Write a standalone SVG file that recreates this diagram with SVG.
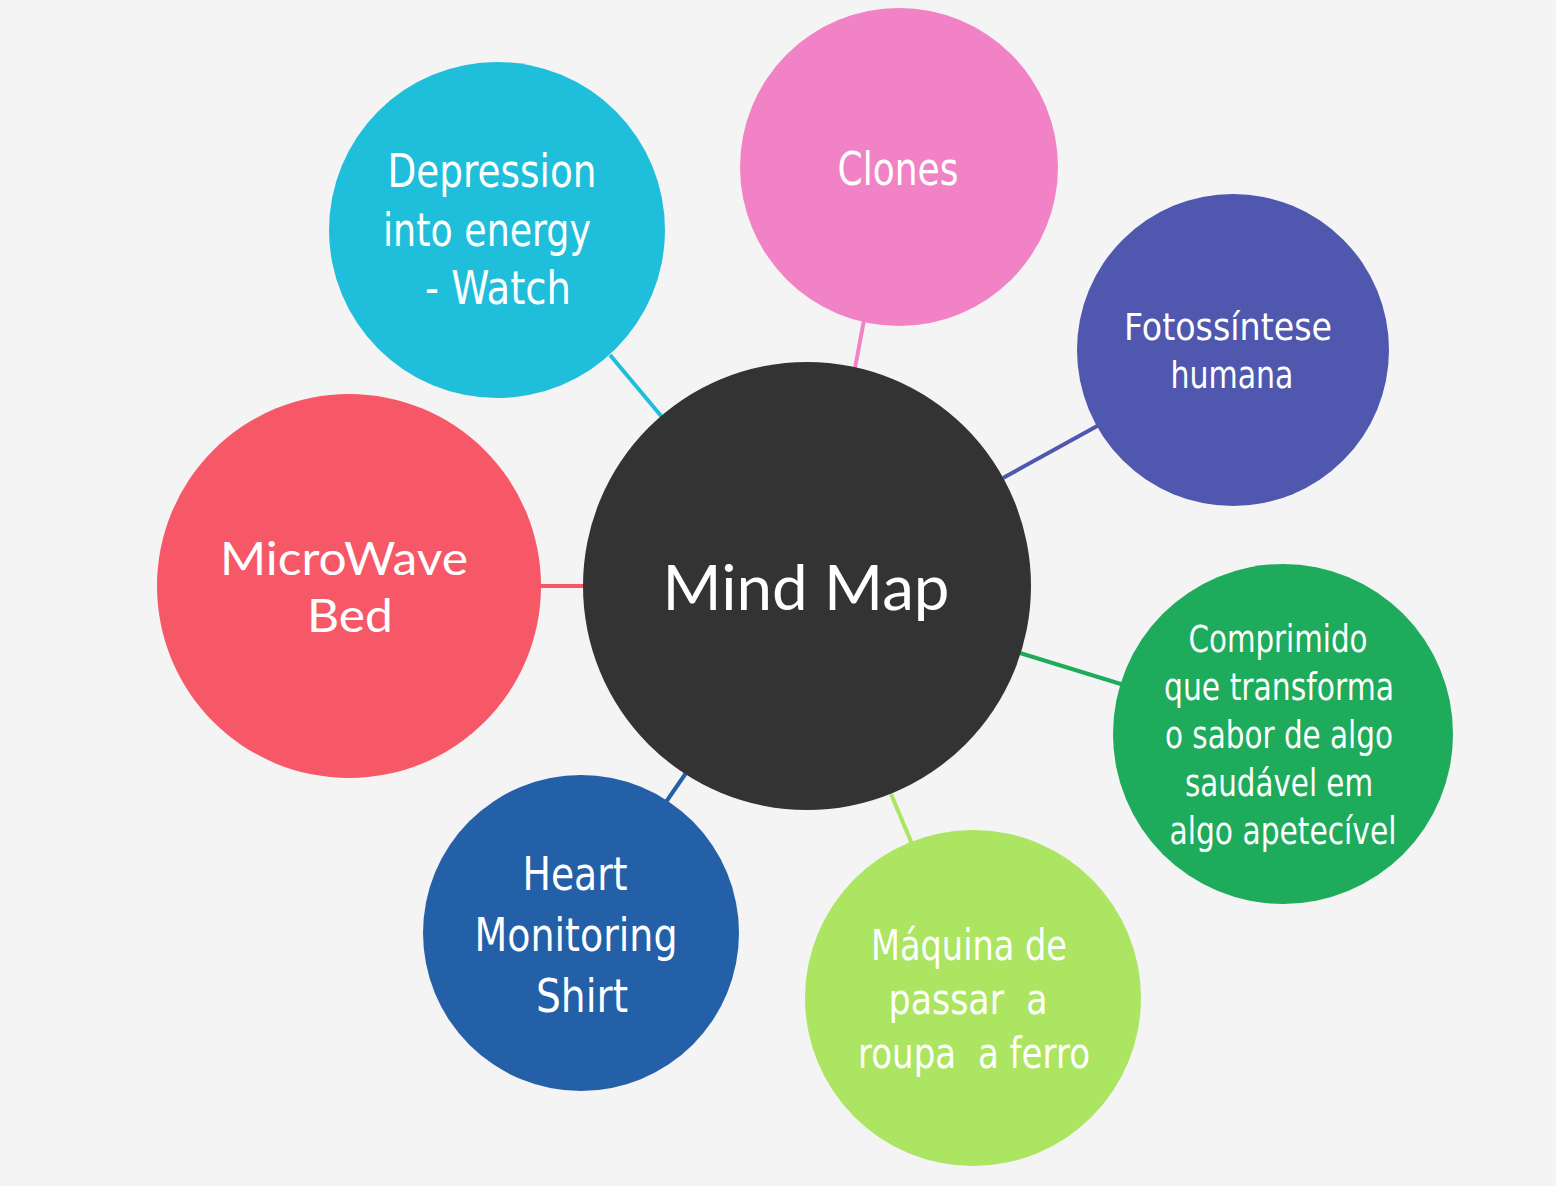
<svg xmlns="http://www.w3.org/2000/svg" width="1556" height="1186" viewBox="0 0 1556 1186">
  <style>
    .link { stroke-width: 4; fill: none; }
    .label { fill: #ffffff; text-anchor: middle; font-family: "Liberation Sans Narrow", "DejaVu Sans Condensed", "Roboto", sans-serif; }
    .round { fill: #ffffff; text-anchor: middle; font-family: "Lato", "Open Sans", sans-serif; }
  </style>
  <rect width="1556" height="1186" fill="#f4f4f4"/>

  <!-- connectors from the centre to each idea -->
  <g id="connectors">
    <line class="link" stroke="#1fbfdb" x1="610" y1="355" x2="662" y2="417"/>
    <line class="link" stroke="#f282c6" x1="864" y1="320" x2="855" y2="368"/>
    <line class="link" stroke="#4f58ae" x1="1003" y1="478" x2="1099" y2="425"/>
    <line class="link" stroke="#1eab5c" x1="1020" y1="653" x2="1124" y2="685"/>
    <line class="link" stroke="#abe561" x1="891" y1="794" x2="912" y2="844"/>
    <line class="link" stroke="#2460a7" x1="686" y1="773" x2="666" y2="802"/>
    <line class="link" stroke="#f65867" x1="538" y1="586" x2="585" y2="586"/>
  </g>

  <g id="depression">
    <circle cx="497" cy="230" r="168" fill="#1fbfdb"/>
    <g class="label" font-size="46">
      <text x="492" y="187" textLength="209" lengthAdjust="spacingAndGlyphs">Depression</text>
      <text x="487" y="246" textLength="208" lengthAdjust="spacingAndGlyphs">into energy</text>
      <text x="498" y="304" textLength="146" lengthAdjust="spacingAndGlyphs">- Watch</text>
    </g>
  </g>

  <g id="clones">
    <circle cx="899" cy="167" r="159" fill="#f282c6"/>
    <text class="label" font-size="46" x="898" y="185" textLength="121" lengthAdjust="spacingAndGlyphs">Clones</text>
  </g>

  <g id="fotossintese">
    <circle cx="1233" cy="350" r="156" fill="#4f58ae"/>
    <g class="label" font-size="38">
      <text x="1228" y="340" textLength="208" lengthAdjust="spacingAndGlyphs">Fotossíntese</text>
      <text x="1232" y="388" textLength="123" lengthAdjust="spacingAndGlyphs">humana</text>
    </g>
  </g>

  <g id="comprimido">
    <circle cx="1283" cy="734" r="170" fill="#1eab5c"/>
    <g class="label" font-size="37">
      <text x="1278" y="652" textLength="179" lengthAdjust="spacingAndGlyphs">Comprimido</text>
      <text x="1279" y="700" textLength="230" lengthAdjust="spacingAndGlyphs">que transforma</text>
      <text x="1279" y="748" textLength="228" lengthAdjust="spacingAndGlyphs">o sabor de algo</text>
      <text x="1279" y="796" textLength="188" lengthAdjust="spacingAndGlyphs">saudável em</text>
      <text x="1283" y="844" textLength="227" lengthAdjust="spacingAndGlyphs">algo apetecível</text>
    </g>
  </g>

  <g id="maquina">
    <circle cx="973" cy="998" r="168" fill="#abe561"/>
    <g class="label" font-size="42">
      <text x="969" y="960" textLength="196" lengthAdjust="spacingAndGlyphs">Máquina de</text>
      <text x="968" y="1014" textLength="159" lengthAdjust="spacingAndGlyphs">passar&#160; a</text>
      <text x="974" y="1068" textLength="232" lengthAdjust="spacingAndGlyphs">roupa&#160; a ferro</text>
    </g>
  </g>

  <g id="heart">
    <circle cx="581" cy="933" r="158" fill="#2460a7"/>
    <g class="label" font-size="46">
      <text x="575" y="890" textLength="105" lengthAdjust="spacingAndGlyphs">Heart</text>
      <text x="576" y="951" textLength="203" lengthAdjust="spacingAndGlyphs">Monitoring</text>
      <text x="582" y="1012" textLength="92" lengthAdjust="spacingAndGlyphs">Shirt</text>
    </g>
  </g>

  <g id="microwave">
    <circle cx="349" cy="586" r="192" fill="#f65867"/>
    <g class="round" font-size="46">
      <text x="344" y="575" textLength="248" lengthAdjust="spacingAndGlyphs">MicroWave</text>
      <text x="350" y="632" textLength="86" lengthAdjust="spacingAndGlyphs">Bed</text>
    </g>
  </g>

  <g id="mind-map">
    <circle cx="807" cy="586" r="224" fill="#333333"/>
    <text class="round" font-size="62" x="806" y="610" textLength="287" lengthAdjust="spacingAndGlyphs">Mind Map</text>
  </g>
</svg>
